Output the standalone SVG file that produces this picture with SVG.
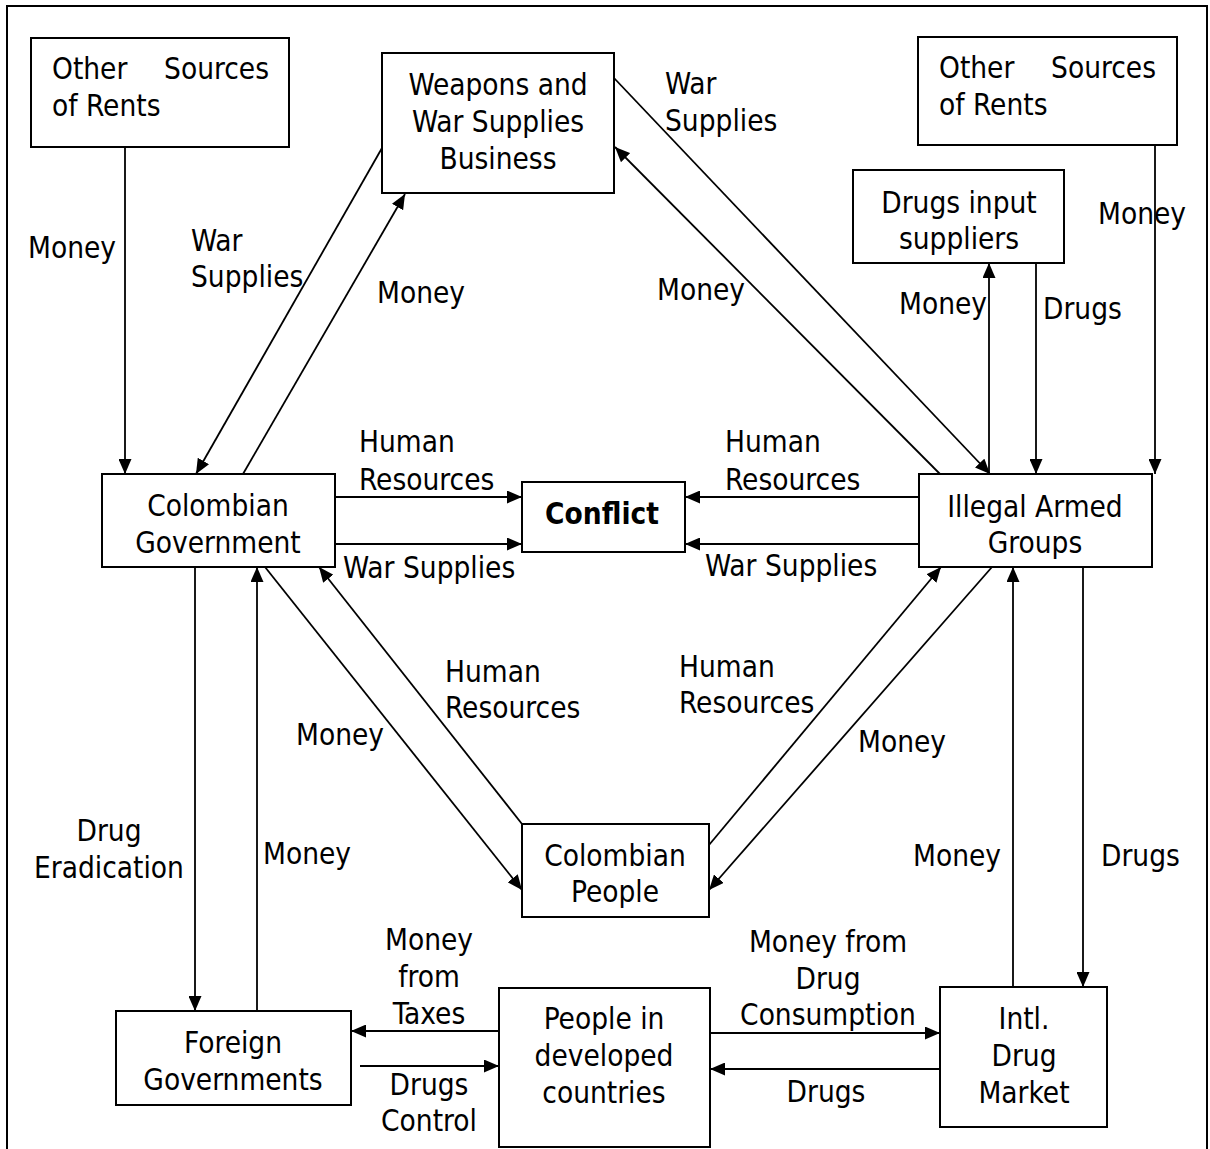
<svg xmlns="http://www.w3.org/2000/svg" width="1210" height="1149" viewBox="0 0 1210 1149">
<style>
text{font-family:"DejaVu Sans Condensed","Liberation Sans",sans-serif;font-size:29.5px;fill:#000}
.c{text-anchor:middle}
.e{text-anchor:end}
.b{font-weight:bold}
.box{fill:#fff;stroke:#000;stroke-width:2}
.la{stroke:#000;stroke-width:1.8;fill:none;marker-end:url(#ah)}
</style>
<defs>
<marker id="ah" markerUnits="userSpaceOnUse" markerWidth="16" markerHeight="13" refX="15" refY="6.5" orient="auto">
<path d="M0,0 L15,6.5 L0,13 z" fill="#000"/>
</marker>
</defs>
<rect width="1210" height="1149" fill="#fff"/>
<path d="M7,1149 V6 H1207 V1149" fill="none" stroke="#000" stroke-width="2"/>

<g id="connectors">
<line class="la" x1="125" y1="147" x2="125" y2="474"/>
<text x="28" y="258">Money</text>
<line class="la" x1="382" y1="148" x2="196" y2="474"/>
<text x="191" y="251">War</text><text x="191" y="287">Supplies</text>
<line class="la" x1="243" y1="474" x2="405" y2="194"/>
<text x="377" y="303">Money</text>
<line class="la" x1="614" y1="78" x2="990" y2="474"/>
<text x="665" y="94">War</text><text x="665" y="131">Supplies</text>
<line class="la" x1="940" y1="474" x2="615" y2="147"/>
<text x="657" y="300">Money</text>
<line class="la" x1="989" y1="474" x2="989" y2="263"/>
<text x="899" y="314">Money</text>
<line class="la" x1="1036" y1="263" x2="1036" y2="474"/>
<text x="1043" y="319">Drugs</text>
<line class="la" x1="1155" y1="145" x2="1155" y2="474"/>
<text x="1098" y="224">Money</text>
<line class="la" x1="335" y1="497" x2="522" y2="497"/>
<text x="359" y="452">Human</text><text x="359" y="490">Resources</text>
<line class="la" x1="335" y1="544" x2="522" y2="544"/>
<text x="343" y="578">War Supplies</text>
<line class="la" x1="919" y1="497" x2="685" y2="497"/>
<text x="725" y="452">Human</text><text x="725" y="490">Resources</text>
<line class="la" x1="919" y1="544" x2="685" y2="544"/>
<text x="705" y="576">War Supplies</text>
<line class="la" x1="265" y1="567" x2="522" y2="890"/>
<text x="296" y="745">Money</text>
<line class="la" x1="522" y1="824" x2="319" y2="567"/>
<text x="445" y="682">Human</text><text x="445" y="718">Resources</text>
<line class="la" x1="709" y1="845" x2="941" y2="567"/>
<text x="679" y="677">Human</text><text x="679" y="713">Resources</text>
<line class="la" x1="992" y1="567" x2="709" y2="890"/>
<text x="858" y="752">Money</text>
<line class="la" x1="195" y1="567" x2="195" y2="1011"/>
<text class="c" x="109" y="841">Drug</text><text class="c" x="109" y="878">Eradication</text>
<line class="la" x1="257" y1="1011" x2="257" y2="567"/>
<text x="263" y="864">Money</text>
<line class="la" x1="499" y1="1031" x2="351" y2="1031"/>
<text class="c" x="429" y="950">Money</text><text class="c" x="429" y="987">from</text><text class="c" x="429" y="1024">Taxes</text>
<line class="la" x1="360" y1="1066" x2="499" y2="1066"/>
<text class="c" x="429" y="1095">Drugs</text><text class="c" x="429" y="1131">Control</text>
<line class="la" x1="710" y1="1033" x2="940" y2="1033"/>
<text class="c" x="828" y="952">Money from</text><text class="c" x="828" y="989">Drug</text><text class="c" x="828" y="1025">Consumption</text>
<line class="la" x1="940" y1="1069" x2="710" y2="1069"/>
<text class="c" x="826" y="1102">Drugs</text>
<line class="la" x1="1013" y1="987" x2="1013" y2="567"/>
<text x="913" y="866">Money</text>
<line class="la" x1="1083" y1="567" x2="1083" y2="987"/>
<text x="1101" y="866">Drugs</text>
</g>

<g id="osr-left"><rect class="box" x="31" y="38" width="258" height="109"/>
<text x="52" y="79">Other</text><text class="e" x="269" y="79">Sources</text><text x="52" y="116">of Rents</text></g>
<g id="weapons"><rect class="box" x="382" y="53" width="232" height="140"/>
<text class="c" x="498" y="95">Weapons and</text><text class="c" x="498" y="132">War Supplies</text><text class="c" x="498" y="169">Business</text></g>
<g id="osr-right"><rect class="box" x="918" y="37" width="259" height="108"/>
<text x="939" y="78">Other</text><text class="e" x="1156" y="78">Sources</text><text x="939" y="115">of Rents</text></g>
<g id="drugs-input"><rect class="box" x="853" y="170" width="211" height="93"/>
<text class="c" x="959" y="213">Drugs input</text><text class="c" x="959" y="249">suppliers</text></g>
<g id="col-gov"><rect class="box" x="102" y="474" width="233" height="93"/>
<text class="c" x="218" y="516">Colombian</text><text class="c" x="218" y="553">Government</text></g>
<g id="conflict"><rect class="box" x="522" y="482" width="163" height="70"/>
<text class="c b" x="602" y="524">Conflict</text></g>
<g id="illegal"><rect class="box" x="919" y="474" width="233" height="93"/>
<text class="c" x="1035" y="517">Illegal Armed</text><text class="c" x="1035" y="553">Groups</text></g>
<g id="col-people"><rect class="box" x="522" y="824" width="187" height="93"/>
<text class="c" x="615" y="866">Colombian</text><text class="c" x="615" y="902">People</text></g>
<g id="foreign"><rect class="box" x="116" y="1011" width="235" height="94"/>
<text class="c" x="233" y="1053">Foreign</text><text class="c" x="233" y="1090">Governments</text></g>
<g id="people-dev"><rect class="box" x="499" y="988" width="211" height="159"/>
<text class="c" x="604" y="1029">People in</text><text class="c" x="604" y="1066">developed</text><text class="c" x="604" y="1103">countries</text></g>
<g id="drug-market"><rect class="box" x="940" y="987" width="167" height="140"/>
<text class="c" x="1024" y="1029">Intl.</text><text class="c" x="1024" y="1066">Drug</text><text class="c" x="1024" y="1103">Market</text></g>
</svg>
